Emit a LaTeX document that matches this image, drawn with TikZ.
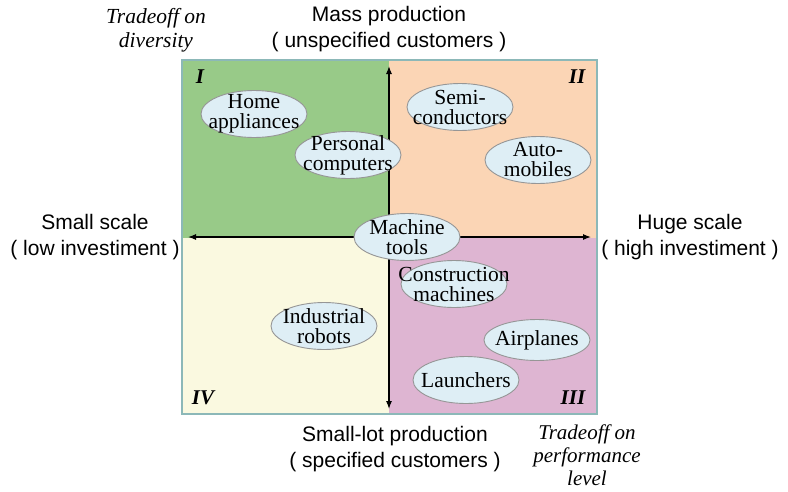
\documentclass[tikz,border=0pt]{standalone}
\usepackage{fontspec}
\setmainfont{Liberation Serif}
\setsansfont{Liberation Sans}
\usetikzlibrary{arrows.meta,shapes.geometric}
\definecolor{qgreen}{RGB}{152,202,136}
\definecolor{qorange}{RGB}{251,213,181}
\definecolor{qpink}{RGB}{222,181,210}
\definecolor{qyellow}{RGB}{250,249,224}
\definecolor{qborder}{RGB}{140,184,184}
\definecolor{efill}{RGB}{222,238,245}
\definecolor{eborder}{RGB}{150,150,150}
\tikzset{
  item/.style={ellipse, draw=eborder, line width=0.9pt, fill=efill, minimum width=106pt, minimum height=47pt, inner xsep=-25pt, inner ysep=-14pt, align=center, font=\fontsize{21.5}{20}\selectfont},
  axislabel/.style={align=center, font=\sffamily\fontsize{21}{26}\selectfont},
  tradeoff/.style={align=center, font=\itshape\fontsize{21.5}{24}\selectfont},
  roman/.style={font=\bfseries\itshape\fontsize{21}{21}\selectfont},
  axis/.style={{Latex[length=8pt,width=6pt]}-{Latex[length=8pt,width=6pt]}, line width=1.1pt, black}
}
\begin{document}
\begin{tikzpicture}[x=1pt,y=-1pt]
\useasboundingbox (0,0) rectangle (788,491);
% quadrants
\fill[qgreen] (182,60) rectangle (389,237.5);
\fill[qorange] (389,60) rectangle (597,237.5);
\fill[qyellow] (182,237.5) rectangle (389,414);
\fill[qpink] (389,237.5) rectangle (597,414);
\draw[qborder, line width=1.3pt] (182,60) rectangle (597,414);
% axes
\coordinate (top) at (389,66);
\coordinate (bot) at (389,409);
\coordinate (lft) at (188,237);
\coordinate (rgt) at (591,237);
\draw[axis] (bot) -- (top);
\draw[axis] (lft) -- (rgt);
% roman numerals
\node[roman] (r1) at (200,77) {I};
\node[roman] (r2) at (577,77) {II};
\node[roman] (r3) at (573,398) {III};
\node[roman] (r4) at (203,398) {IV};
% ellipses
\node[item] (home) at (254,114) {Home\\appliances};
\node[item] (pc) at (348,155) {Personal\\computers};
\node[item] (semi) at (460,107) {Semi-\\conductors};
\node[item] (auto) at (538,160) {Auto-\\mobiles};
\node[item] (mach) at (407,237) {Machine\\tools};
\node[item] (cons) at (454,284) {Construction\\machines};
\node[item] (robot) at (324,326) {Industrial\\robots};
\node[item, minimum height=41pt] (air) at (537,340) {Airplanes};
\node[item] (launch) at (466,380) {Launchers};
% labels
\node[tradeoff] (t1) at (156,30) {Tradeoff on\\diversity};
\node[axislabel] (mass) at (389,29) {Mass production\\( unspecified customers )};
\node[axislabel] (small) at (95,237) {Small scale\\( low investiment )};
\node[axislabel] (huge) at (690,237) {Huge scale\\( high investiment )};
\node[axislabel] (lot) at (395,449) {Small-lot production\\( specified customers )};
\node[tradeoff, font=\itshape\fontsize{21}{23}\selectfont] (t2) at (587,455) {Tradeoff on\\performance\\level};
\end{tikzpicture}
\end{document}
